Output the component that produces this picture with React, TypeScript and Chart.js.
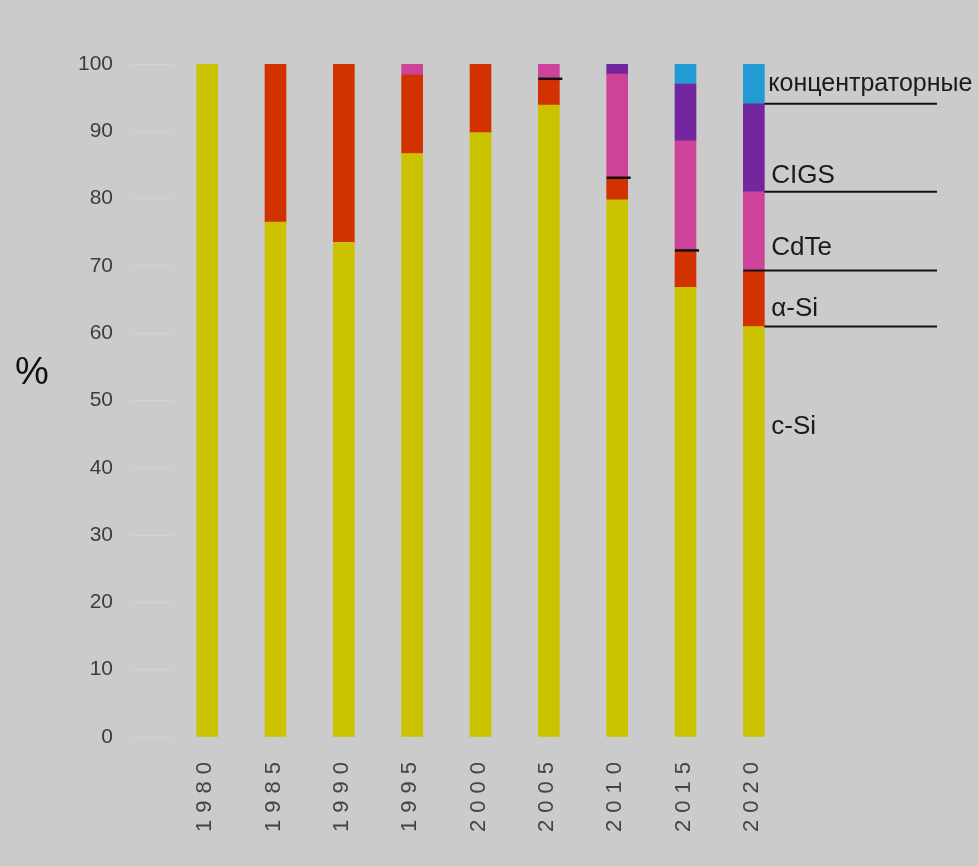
import React, { useEffect, useRef } from "react";
import { Chart, registerables } from "chart.js";

Chart.register(...registerables);

const years = ["1980", "1985", "1990", "1995", "2000", "2005", "2010", "2015", "2020"];
const cSi = [100, 76.5, 73.5, 86.7, 89.8, 93.9, 79.8, 66.8, 61.0];
const aSi = [0, 23.5, 26.5, 11.7, 10.2, 3.9, 3.3, 5.5, 8.3];
const cdTe = [0, 0, 0, 1.6, 0, 2.2, 15.4, 16.3, 11.7];
const cigs = [0, 0, 0, 0, 0, 0, 1.5, 8.4, 13.1];
const conc = [0, 0, 0, 0, 0, 0, 0, 3.0, 5.9];
const seriesNames = ["c-Si", "α-Si", "CdTe", "CIGS", "концентраторные"];
const seriesColors = ["#cbc300", "#d23200", "#cc4399", "#73269e", "#229ad3"];
const markedYears = ["2005", "2010", "2015"];
const yAxisTitle = "%";

const seriesValues = [cSi, aSi, cdTe, cigs, conc];

const annotPlugin = {
  id: "annot",
  afterDatasetsDraw(chart: any) {
    const ctx = chart.ctx as CanvasRenderingContext2D;
    const xs = chart.scales.x;
    const ys = chart.scales.y;
    const half = 10.5;
    ctx.save();
    // small black marks at the α-Si / CdTe boundary
    ctx.strokeStyle = "#111";
    ctx.lineWidth = 2.5;
    markedYears.forEach((yr) => {
      const i = years.indexOf(yr);
      const cx = xs.getPixelForValue(i);
      const py = ys.getPixelForValue(cSi[i] + aSi[i]);
      ctx.beginPath();
      ctx.moveTo(cx - half, py);
      ctx.lineTo(cx + half + 3, py);
      ctx.stroke();
    });
    // guide lines and labels for the last column
    const last = years.length - 1;
    const cx = xs.getPixelForValue(last);
    const lineEnd = chart.width - 41;
    const bounds: number[] = [0];
    seriesValues.forEach((arr) => bounds.push(bounds[bounds.length - 1] + arr[last]));
    ctx.lineWidth = 2;
    for (let k = 1; k < bounds.length - 1; k++) {
      const py = ys.getPixelForValue(bounds[k]);
      const startX = k === 2 ? cx - half : cx + half;
      ctx.beginPath();
      ctx.moveTo(startX, py);
      ctx.lineTo(lineEnd, py);
      ctx.stroke();
    }
    ctx.fillStyle = "#1a1a1a";
    ctx.textAlign = "left";
    ctx.textBaseline = "middle";
    const offsets = [100, -18, -23, -16, 0];
    seriesNames.forEach((name, k) => {
      const pBottom = ys.getPixelForValue(bounds[k]);
      const pTop = ys.getPixelForValue(bounds[k + 1]);
      let py: number;
      if (k === 0) py = pTop + offsets[k];
      else if (k === seriesNames.length - 1) py = (pTop + pBottom) / 2;
      else py = pBottom + offsets[k];
      ctx.font = k === seriesNames.length - 1 ? '25px "Liberation Sans"' : '26px "Liberation Sans"';
      const dx = k === seriesNames.length - 1 ? 4 : 7;
      ctx.fillText(name, cx + half + dx, py);
    });
    ctx.restore();
  },
  afterDraw(chart: any) {
    const ctx = chart.ctx as CanvasRenderingContext2D;
    const xs = chart.scales.x;
    const area = chart.chartArea;
    ctx.save();
    ctx.fillStyle = "#444";
    ctx.font = '22px "Liberation Sans"';
    (ctx as any).letterSpacing = "7px";
    ctx.textAlign = "right";
    ctx.textBaseline = "middle";
    years.forEach((yr, i) => {
      const cx = xs.getPixelForValue(i);
      ctx.save();
      ctx.translate(cx - 2, area.bottom + 18);
      ctx.rotate(-Math.PI / 2);
      ctx.fillText(yr, 0, 0);
      ctx.restore();
    });
    (ctx as any).letterSpacing = "0px";
    ctx.fillStyle = "#111";
    ctx.font = '38px "Liberation Sans"';
    ctx.textAlign = "center";
    ctx.fillText(yAxisTitle, 32, 374);
    ctx.restore();
  },
};

export default function App() {
  const ref = useRef<HTMLCanvasElement | null>(null);
  useEffect(() => {
    document.body.style.margin = "0";
    const canvas = ref.current;
    if (!canvas) return;
    const chart = new Chart(canvas, {
      type: "bar",
      data: {
        labels: years,
        datasets: seriesValues.map((vals, k) => ({
          label: seriesNames[k],
          data: vals,
          backgroundColor: seriesColors[k],
          borderWidth: 0,
          barThickness: 21,
        })),
      },
      options: {
        responsive: false,
        animation: false,
        layout: { padding: { top: 64, right: 190, bottom: 0, left: 0 } },
        plugins: { legend: { display: false }, tooltip: { enabled: false } },
        scales: {
          x: {
            stacked: true,
            offset: true,
            ticks: { display: false },
            grid: { display: false },
            border: { display: false },
            afterFit(s: any) {
              s.height = 129;
            },
          },
          y: {
            stacked: true,
            min: 0,
            max: 100,
            ticks: {
              stepSize: 10,
              color: "#3c3c3c",
              font: { family: '"Liberation Sans"', size: 21 },
              padding: 18,
            },
            grid: {
              drawOnChartArea: false,
              drawTicks: true,
              tickLength: 42,
              color: "rgba(212,212,212,1)",
            },
            border: { display: false },
            afterFit(s: any) {
              s.width = 173;
            },
          },
        },
      },
      plugins: [annotPlugin],
    });
    return () => chart.destroy();
  }, []);
  return (
    <div style={{ position: "absolute", left: 0, top: 0, width: 978, height: 866, background: "#cbcbcb" }}>
      <canvas ref={ref} width={978} height={866} style={{ display: "block" }} />
    </div>
  );
}
